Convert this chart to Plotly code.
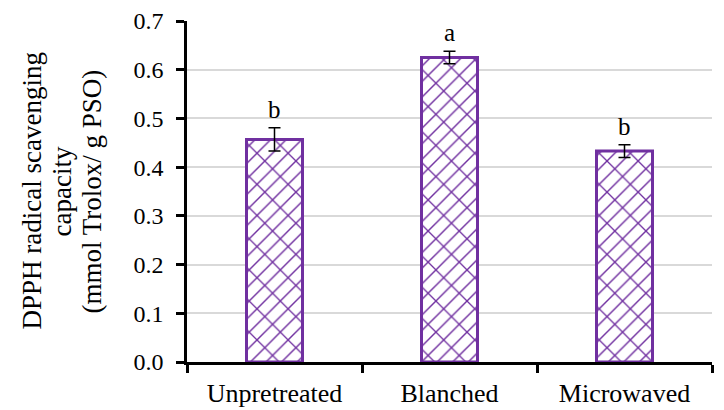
import plotly.graph_objects as go

categories = ["Unpretreated", "Blanched", "Microwaved"]
means = [0.457, 0.625, 0.433]
errors = [0.024, 0.013, 0.013]
letters = ["b", "a", "b"]
y_ticks = [0.0, 0.1, 0.2, 0.3, 0.4, 0.5, 0.6, 0.7]
y_title_lines = ["DPPH radical scavenging", "capacity", "(mmol Trolox/ g PSO)"]

purple = "#7030A0"
font = "Liberation Serif"

fig = go.Figure()
fig.add_trace(go.Bar(
    x=categories, y=means, width=0.32,
    marker=dict(color="white", line=dict(color=purple, width=0),
                pattern=dict(shape="/", fgcolor=purple, fgopacity=1, bgcolor="white", size=11, solidity=0.13)),
))
fig.add_trace(go.Bar(
    x=categories, y=means, width=0.32,
    marker=dict(color="rgba(0,0,0,0)", line=dict(color=purple, width=3),
                pattern=dict(shape="\\", fgcolor=purple, fgopacity=1, bgcolor="rgba(0,0,0,0)", size=22, solidity=0.06)),
    error_y=dict(type="data", array=errors, visible=True, color="black", thickness=1.5, width=6),
))

for c, m, e, l in zip(categories, means, errors, letters):
    fig.add_annotation(x=c, y=m + e, text=l, showarrow=False, yanchor="bottom", yshift=3,
                       font=dict(family=font, size=25, color="black"))

# y-axis title lines (rotated), spaced like the reference
for i, line in enumerate(y_title_lines):
    fig.add_annotation(xref="paper", yref="paper", x=0, y=0.5, xanchor="center", yanchor="middle",
                       xshift=-156 + 30 * i, textangle=-90, text=line, showarrow=False,
                       font=dict(family=font, size=27, color="black"))

fig.update_layout(
    width=716, height=402, margin=dict(l=179, r=12, t=13, b=48),
    plot_bgcolor="white", paper_bgcolor="white", showlegend=False, barmode="overlay",
    font=dict(family=font, color="black"),
)
fig.update_xaxes(showline=True, linecolor="black", linewidth=2.5, ticks="outside", tickson="boundaries",
                 ticklen=8, tickwidth=2.5, tickcolor="black", tickfont=dict(size=26, family=font),
                 ticklabelstandoff=6, automargin=False)
fig.update_yaxes(range=[0, 0.7], tickvals=y_ticks, tickformat=".1f", showline=True, linecolor="black",
                 linewidth=2.5, ticks="outside", ticklen=8, tickwidth=2.5, tickcolor="black",
                 showgrid=True, gridcolor="#d9d9d9", gridwidth=1.5, zeroline=False,
                 tickfont=dict(size=24, family=font), ticklabelstandoff=8, automargin=False)

fig.write_html("out.html")
